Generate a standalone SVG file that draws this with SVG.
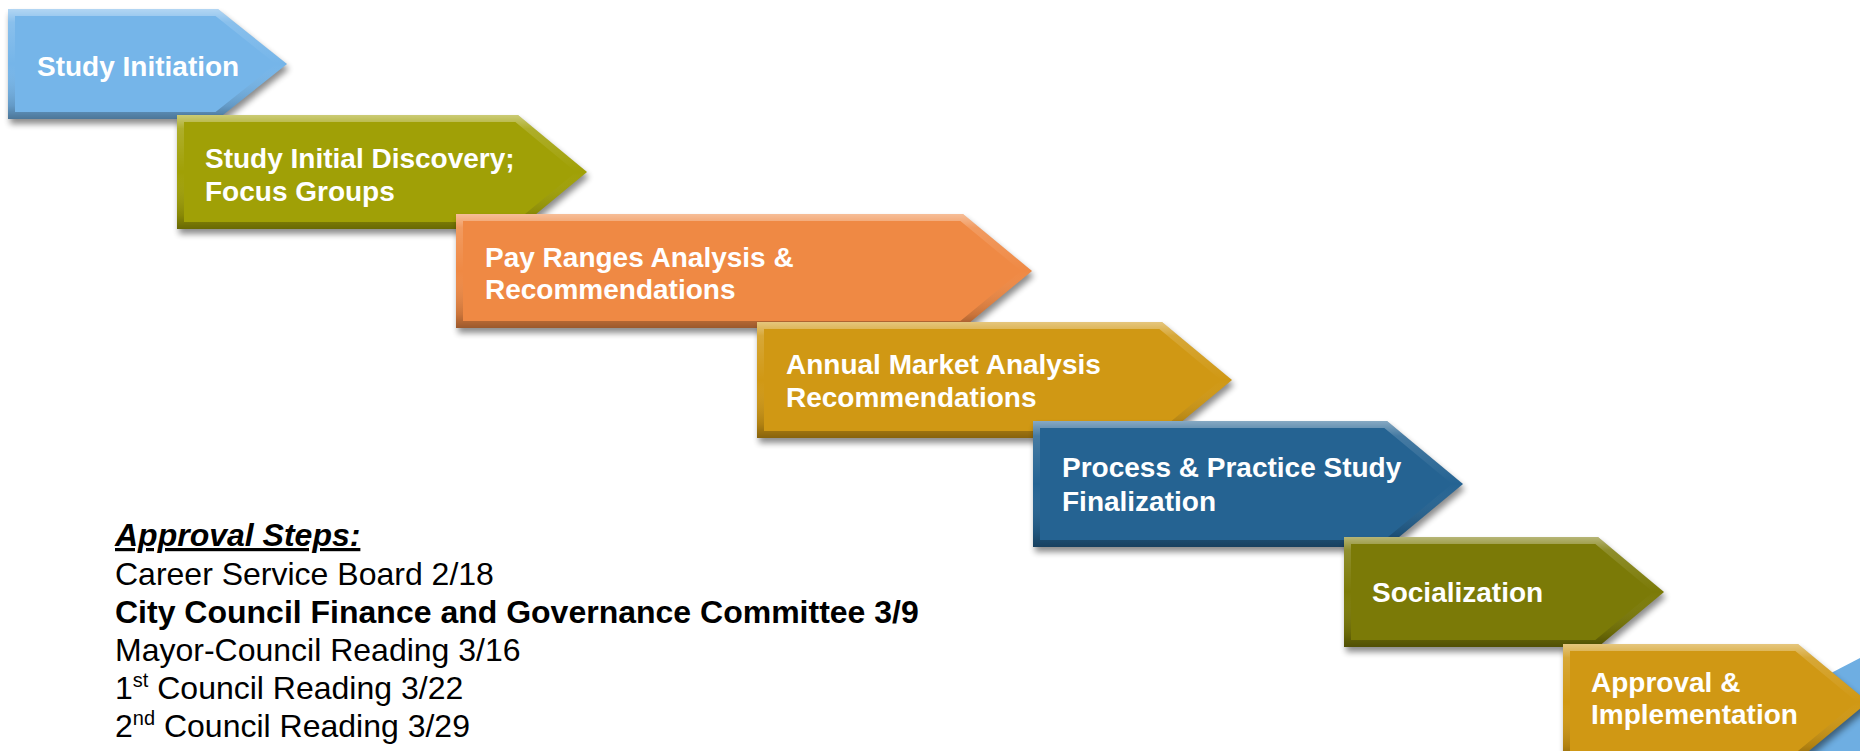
<svg xmlns="http://www.w3.org/2000/svg" xmlns:xlink="http://www.w3.org/1999/xlink" width="1860" height="751" viewBox="0 0 1860 751">
  <style>
    .lbl { font-family: "Liberation Sans", Arial, sans-serif; font-weight: bold; font-size: 28px; fill: #ffffff; }
    .note { font-family: "Liberation Sans", Arial, sans-serif; font-size: 32px; fill: #000000; }
    .note-b { font-weight: bold; }
    .note-h { font-weight: bold; font-style: italic; text-decoration: underline; }
    .sup { font-size: 20px; }
    .shadow { fill: #000000; opacity: 0.45; filter: url(#blur); }
    .bevel { fill: none; stroke: url(#bevelGrad); stroke-width: 14; stroke-linejoin: miter; }
  </style>
  <defs>
    <filter id="blur" x="-10%" y="-20%" width="120%" height="140%">
      <feGaussianBlur stdDeviation="3"/>
    </filter>
    <linearGradient id="bevelGrad" x1="0" y1="0" x2="0" y2="1">
      <stop offset="0" stop-color="#ffffff" stop-opacity="0.45"/>
      <stop offset="0.12" stop-color="#ffffff" stop-opacity="0.15"/>
      <stop offset="0.5" stop-color="#ffffff" stop-opacity="0"/>
      <stop offset="0.88" stop-color="#000000" stop-opacity="0.15"/>
      <stop offset="1" stop-color="#000000" stop-opacity="0.35"/>
    </linearGradient>
    <!-- chevron outlines -->
    <polygon id="p1" points="8,9 218,9 287,64 218,119 8,119"/>
    <polygon id="p2" points="177,115 518,115 587,172 518,229 177,229"/>
    <polygon id="p3" points="456,214 963,214 1032,271 963,328 456,328"/>
    <polygon id="p4" points="757,322 1162,322 1232,380 1162,438 757,438"/>
    <polygon id="p5" points="1033,421 1387,421 1463,484 1387,547 1033,547"/>
    <polygon id="p6" points="1344,537 1598,537 1664,592 1598,647 1344,647"/>
    <polygon id="p7" points="1563,644 1798,644 1868,702 1798,760 1563,760"/>
    <polygon id="p8" points="1833,672 1860,658 1860,751 1805,751 1805,690"/>
    <clipPath id="c1"><use xlink:href="#p1"/></clipPath>
    <clipPath id="c2"><use xlink:href="#p2"/></clipPath>
    <clipPath id="c3"><use xlink:href="#p3"/></clipPath>
    <clipPath id="c4"><use xlink:href="#p4"/></clipPath>
    <clipPath id="c5"><use xlink:href="#p5"/></clipPath>
    <clipPath id="c6"><use xlink:href="#p6"/></clipPath>
    <clipPath id="c7"><use xlink:href="#p7"/></clipPath>
    <clipPath id="c8"><use xlink:href="#p8"/></clipPath>
  </defs>

  <rect width="1860" height="751" fill="#ffffff"/>

  <!-- no connectors: the chevrons chain into each other -->
  <g id="connectors"/>

  <g id="step-study-initiation">
    <use xlink:href="#p1" class="shadow" transform="translate(2,5)"/>
    <use xlink:href="#p1" fill="#75B5E9"/>
    <use xlink:href="#p1" class="bevel" clip-path="url(#c1)"/>
    <text class="lbl" x="37" y="76">Study Initiation</text>
  </g>

  <g id="step-initial-discovery">
    <use xlink:href="#p2" class="shadow" transform="translate(2,5)"/>
    <use xlink:href="#p2" fill="#A0A006"/>
    <use xlink:href="#p2" class="bevel" clip-path="url(#c2)"/>
    <text class="lbl" x="205" y="168">Study Initial Discovery;</text>
    <text class="lbl" x="205" y="201">Focus Groups</text>
  </g>

  <g id="step-pay-ranges">
    <use xlink:href="#p3" class="shadow" transform="translate(2,5)"/>
    <use xlink:href="#p3" fill="#EF8944"/>
    <use xlink:href="#p3" class="bevel" clip-path="url(#c3)"/>
    <text class="lbl" x="485" y="267">Pay Ranges Analysis &amp;</text>
    <text class="lbl" x="485" y="299">Recommendations</text>
  </g>

  <g id="step-annual-market">
    <use xlink:href="#p4" class="shadow" transform="translate(2,5)"/>
    <use xlink:href="#p4" fill="#D09814"/>
    <use xlink:href="#p4" class="bevel" clip-path="url(#c4)"/>
    <text class="lbl" x="786" y="374">Annual Market Analysis</text>
    <text class="lbl" x="786" y="407">Recommendations</text>
  </g>

  <g id="step-process-practice">
    <use xlink:href="#p5" class="shadow" transform="translate(2,5)"/>
    <use xlink:href="#p5" fill="#256392"/>
    <use xlink:href="#p5" class="bevel" clip-path="url(#c5)"/>
    <text class="lbl" x="1062" y="477">Process &amp; Practice Study</text>
    <text class="lbl" x="1062" y="511">Finalization</text>
  </g>

  <g id="step-socialization">
    <use xlink:href="#p6" class="shadow" transform="translate(2,5)"/>
    <use xlink:href="#p6" fill="#7B7A07"/>
    <use xlink:href="#p6" class="bevel" clip-path="url(#c6)"/>
    <text class="lbl" x="1372" y="602">Socialization</text>
  </g>

  <g id="step-next">
    <use xlink:href="#p8" fill="#6EAEE2"/>
  </g>

  <g id="step-approval">
    <use xlink:href="#p7" class="shadow" transform="translate(2,5)"/>
    <use xlink:href="#p7" fill="#D09814"/>
    <use xlink:href="#p7" class="bevel" clip-path="url(#c7)"/>
    <text class="lbl" x="1591" y="692">Approval &amp;</text>
    <text class="lbl" x="1591" y="724">Implementation</text>
  </g>

  <g id="approval-steps">
    <text class="note note-h" x="115" y="546">Approval Steps:</text>
    <text class="note" x="115" y="585">Career Service Board 2/18</text>
    <text class="note note-b" x="115" y="623">City Council Finance and Governance Committee 3/9</text>
    <text class="note" x="115" y="661">Mayor-Council Reading 3/16</text>
    <text class="note" x="115" y="699">1<tspan class="sup" dy="-12">st</tspan><tspan dy="12"> Council Reading 3/22</tspan></text>
    <text class="note" x="115" y="737">2<tspan class="sup" dy="-12">nd</tspan><tspan dy="12"> Council Reading 3/29</tspan></text>
  </g>
</svg>
